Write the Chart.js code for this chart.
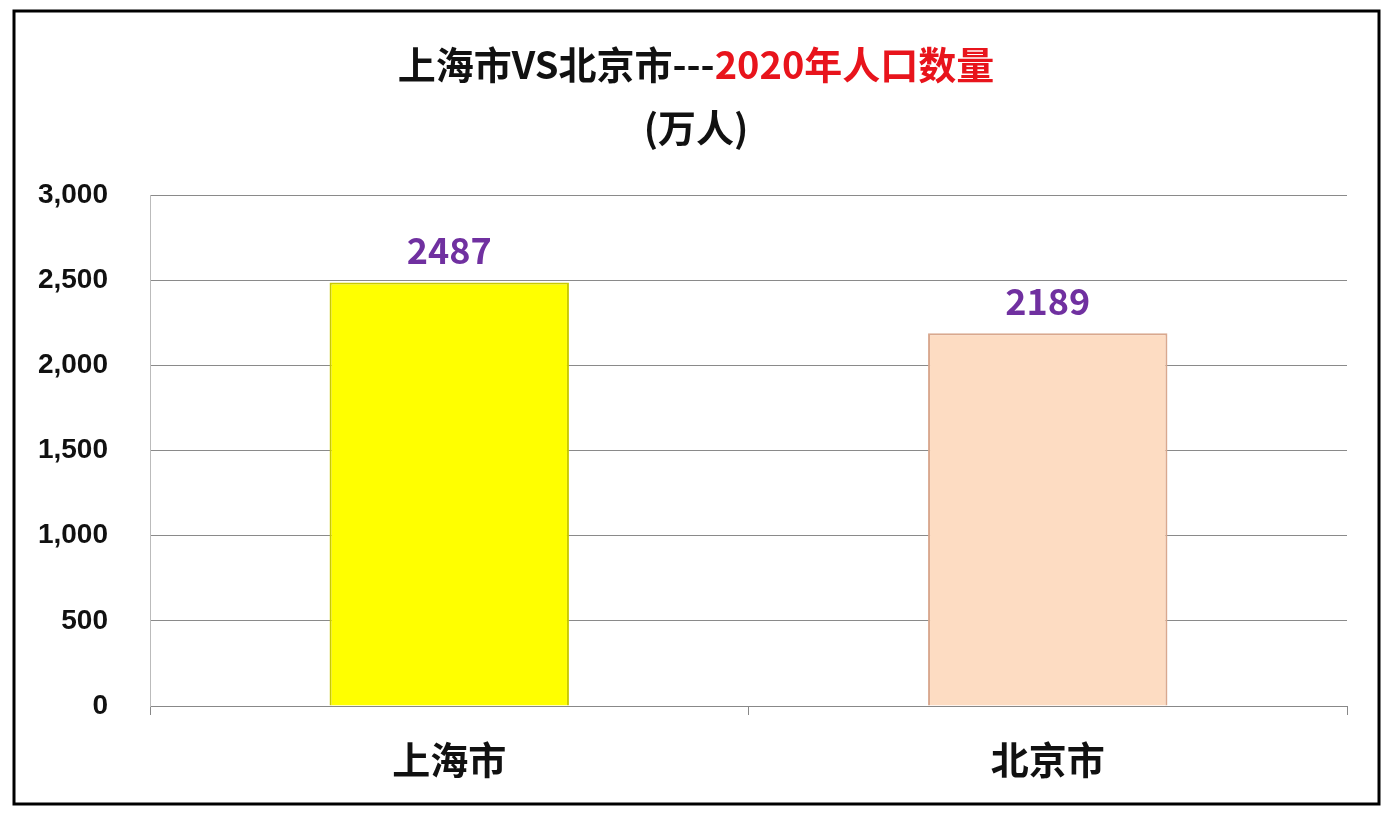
<!DOCTYPE html>
<html><head><meta charset="utf-8">
<script src="https://cdn.jsdelivr.net/npm/chart.js@4"></script>
<style>html,body{margin:0;background:#fff}#wrap{width:1392px;height:818px}</style>
</head><body>
<div id="wrap"><canvas id="c" width="1392" height="818"></canvas></div>
<script>
const categories = ["上海市", "北京市"];
const population = [2487, 2189];
const yTicks = [0, 500, 1000, 1500, 2000, 2500, 3000];
const titleBlack = "上海市VS北京市---";
const titleRed = "2020年人口数量";
const subTitle = "(万人)";

const FONT = "'Noto Sans CJK SC', 'Noto Sans', sans-serif";

const decor = {
  id: "decor",
  afterDraw(chart) {
    const ctx = chart.ctx;
    ctx.save();
    // outer frame
    ctx.strokeStyle = "#000";
    ctx.lineWidth = 3;
    ctx.strokeRect(14, 11, 1365, 793);
    // title, two colours
    ctx.font = "bold 38px " + FONT;
    ctx.textBaseline = "middle";
    const w1 = ctx.measureText(titleBlack).width;
    const w2 = ctx.measureText(titleRed).width;
    let x = 696 - (w1 + w2) / 2;
    ctx.fillStyle = "#111";
    ctx.fillText(titleBlack, x, 65);
    ctx.fillStyle = "#e8141c";
    ctx.fillText(titleRed, x + w1, 65);
    ctx.fillStyle = "#111";
    ctx.textAlign = "center";
    ctx.fillText(subTitle, 696, 128);
    // value labels
    const meta = chart.getDatasetMeta(0);
    ctx.font = "bold 36px " + FONT;
    ctx.fillStyle = "#7030a0";
    ctx.textBaseline = "bottom";
    meta.data.forEach((bar, i) => {
      ctx.fillText(String(population[i]), bar.x, bar.y - 14);
    });
    ctx.restore();
  }
};

new Chart(document.getElementById("c"), {
  type: "bar",
  data: {
    labels: categories,
    datasets: [{
      data: population,
      backgroundColor: ["#ffff00", "#fddcc2"],
      borderColor: ["#c9c900", "#d9a88e"],
      borderWidth: 2,
      categoryPercentage: 1,
      barPercentage: 0.4
    }]
  },
  options: {
    responsive: false,
    animation: false,
    layout: { padding: { top: 195, right: 45, left: 0, bottom: 0 } },
    plugins: { legend: { display: false }, tooltip: { enabled: false } },
    scales: {
      x: {
        afterFit(s) { s.height = 112; },
        border: { color: "#888", width: 1 },
        grid: { offset: true, drawOnChartArea: false, drawTicks: true, tickLength: 9, color: "#888" },
        ticks: { padding: 22, color: "#111", font: { family: FONT, size: 38, weight: "bold" } }
      },
      y: {
        min: 0, max: 3000,
        afterFit(s) { s.width = 150; },
        afterBuildTicks(s) { s.ticks = yTicks.map(v => ({ value: v })); },
        border: { color: "#bbb", width: 1 },
        grid: { color: "#8a8a8a", lineWidth: 1, drawTicks: false },
        ticks: { padding: 42, color: "#111", font: { family: "'Liberation Sans', Arial, sans-serif", size: 28, weight: "bold" } }
      }
    }
  },
  plugins: [decor]
});
</script>
</body></html>
